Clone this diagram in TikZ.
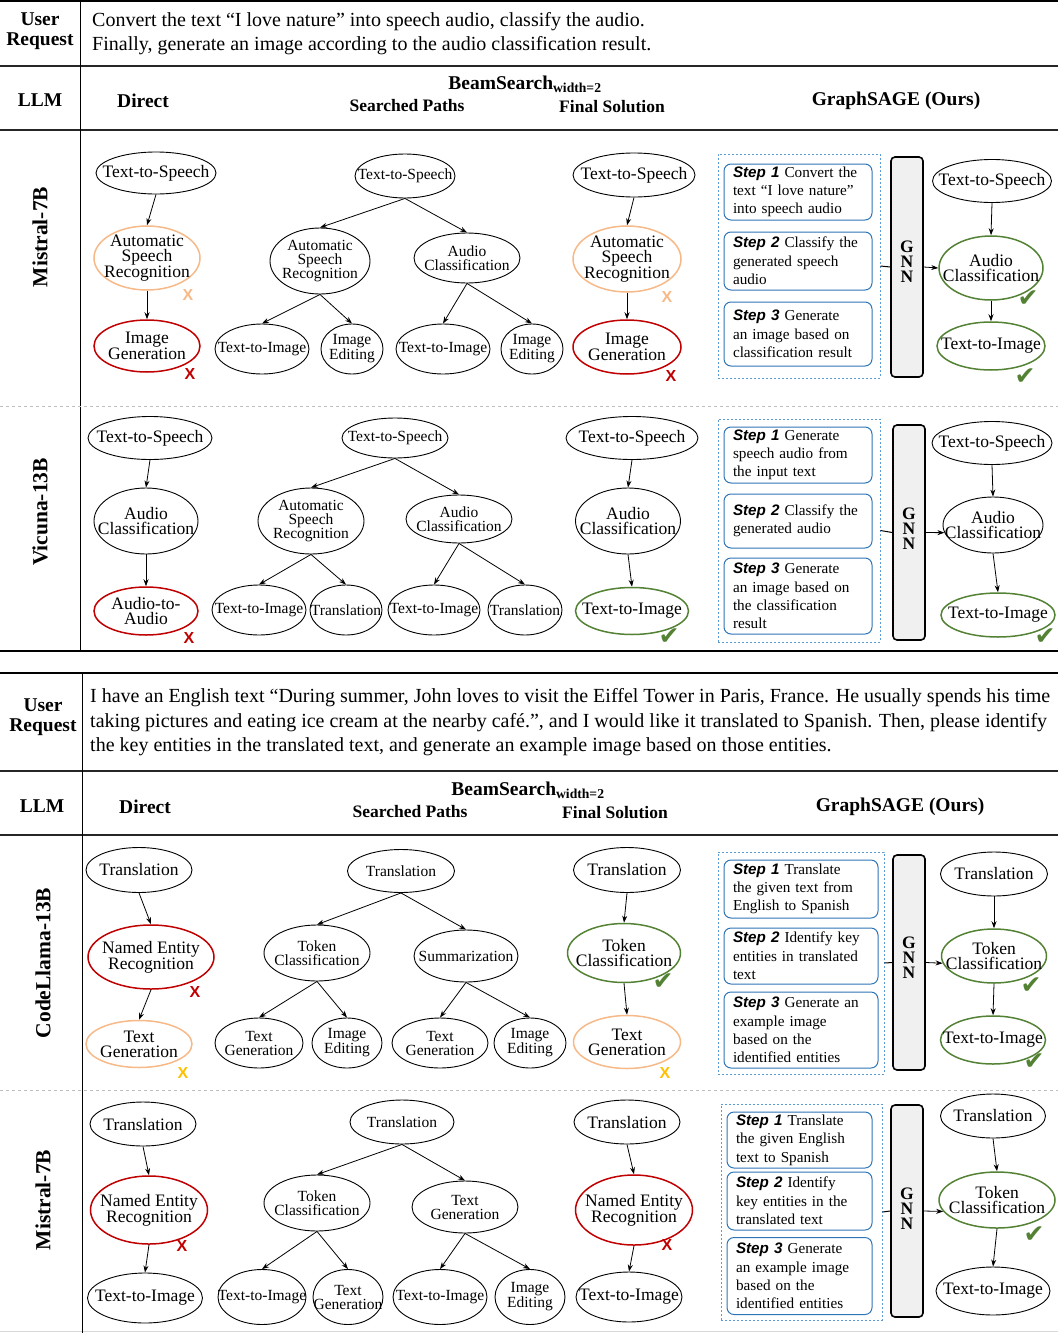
\documentclass[tikz,border=0pt]{standalone}
\usepackage{fontspec}
\setmainfont{Liberation Serif}
\newfontfamily\sansfam{Liberation Sans}
\newfontfamily\ckfam{DejaVu Sans}
\usetikzlibrary{shapes.geometric,arrows.meta}
\definecolor{xred}{RGB}{192,0,0}
\definecolor{xorange}{RGB}{246,185,135}
\definecolor{xyellow}{RGB}{255,192,0}
\definecolor{xgreen}{RGB}{84,130,53}
\definecolor{xblue}{RGB}{46,117,182}
\definecolor{xlblue}{RGB}{91,155,213}
\newcommand\fNode{\fontsize{17.5}{15}\selectfont}
\newcommand\fSrch{\fontsize{15.5}{14}\selectfont}
\newcommand\fStep{\fontsize{15.2}{18.3}\selectfont}
\newcommand\fHead{\fontsize{19.5}{20}\selectfont\bfseries}
\newcommand\fSub{\fontsize{17.5}{18}\selectfont\bfseries}
\newcommand\stp[1]{{\sansfam\bfseries\itshape Step #1}}
\newcommand\tn[6]{\node[tk,#1,minimum width=#4,minimum height=#5,label={[lblm]center:{#6}}] (#2) at (#3) {};}
\newcommand\sn[6]{\node[tk,#1,minimum width=#4,minimum height=#5,label={[lbls]center:{#6}}] (#2) at (#3) {};}
\begin{document}
\begin{tikzpicture}[x=1pt,y=-1pt,
  tk/.style={ellipse,draw,line width=0.9pt,inner sep=0pt},
  redE/.style={draw=xred,line width=1.5pt},
  ornE/.style={draw=xorange,line width=1.5pt},
  grnE/.style={draw=xgreen,line width=1.5pt},
  lblm/.style={align=center,inner sep=0pt,font=\fNode},
  lbls/.style={align=center,inner sep=0pt,font=\fSrch},
  arr/.style={-{Stealth[length=7pt,width=5pt]},line width=0.8pt},
  hd/.style={font=\fHead,align=center,inner sep=0pt},
  sh/.style={font=\fSub,inner sep=0pt},
  rowlab/.style={font=\fontsize{21.5}{22}\selectfont\bfseries,rotate=90,inner sep=0pt},
  req/.style={font=\fontsize{20}{24.3}\selectfont,align=left,anchor=west,inner sep=0pt},
  dbox/.style={draw=xlblue,dash pattern=on 2pt off 2pt,line width=1pt,inner sep=0pt},
  stepbox/.style={draw=xblue,rounded corners=7pt,line width=1pt,text width=130pt,align=left,inner xsep=9pt,inner ysep=2pt,font=\fStep},
  gnnbar/.style={draw,fill=black!6,rounded corners=4pt,line width=1.6pt,minimum width=32pt,inner sep=0pt},
  gnnlet/.style={font=\fontsize{17.5}{15}\selectfont\bfseries,align=center,inner sep=0pt},
  xr/.style={font=\sansfam\bfseries\fontsize{16}{16}\selectfont,text=xred,inner sep=0pt},
  xo/.style={font=\sansfam\bfseries\fontsize{16}{16}\selectfont,text=xorange,inner sep=0pt},
  xy/.style={font=\sansfam\bfseries\fontsize{16}{16}\selectfont,text=xyellow,inner sep=0pt},
  ck/.style={font=\ckfam\fontsize{25}{25}\selectfont,text=xgreen,inner sep=0pt},
  sep/.style={draw=black!25,dashed,line width=1pt}
]
\useasboundingbox (0,0) rectangle (1058,1333);
% ---------- top table frame ----------
\draw[line width=2pt] (0,1) -- (1058,1);
\draw[line width=1.5pt,black!85] (0,66) -- (1058,66);
\draw[line width=1.5pt,black!85] (0,130) -- (1058,130);
\draw[line width=2pt] (0,651) -- (1058,651);
\draw[line width=1pt] (80,0) -- (80,652);
\draw[sep] (0,406) -- (1058,406);
% headers
\node[hd] (ur1) at (40,31) {User\\Request};
\node[req] (rq1) at (92,33.5) {Convert the text “I love nature” into speech audio, classify the audio.\\Finally, generate an image according to the audio classification result.};
\node[hd] (llm1) at (40,100) {LLM};
\node[hd] (dir1) at (143,101) {Direct};
\node[hd] (bs1) at (525,84) {BeamSearch\textsubscript{width=2}};
\node[sh] (sp1) at (407,106) {Searched Paths};
\node[sh] (fs1) at (612,107) {Final Solution};
\node[hd] (gs1) at (896,101) {GraphSAGE (Ours)};
\node[rowlab] (rl1) at (40,237) {Mistral-7B};
\node[rowlab] (rl2) at (40,512) {Vicuna-13B};
% ---------- Section 1 ----------
\tn{}{a1}{156,173}{120}{42}{Text-to-Speech}
\tn{ornE}{a2}{147,258}{106}{64}{Automatic\\Speech\\Recognition}
\tn{redE}{a3}{147,346}{106}{52}{Image\\Generation}
\draw[arr] (a1.south) -- (a2.north);
\draw[arr] (a2.south) -- (a3.north);
\node[xo] (xa2) at (188,295) {X};
\node[xr] (xa3) at (190,374) {X};
\sn{}{b0}{405,176}{100}{44}{Text-to-Speech}
\sn{}{b1}{320,261}{100}{66}{Automatic\\Speech\\Recognition}
\sn{}{b2}{467,258}{106}{50}{Audio\\Classification}
\sn{}{b3}{262,349}{94}{50}{Text-to-Image}
\sn{}{b4}{352,349}{62}{50}{Image\\Editing}
\sn{}{b5}{443,349}{94}{50}{Text-to-Image}
\sn{}{b6}{532,349}{62}{50}{Image\\Editing}
\draw[arr] (b0.south) -- (b1.north);
\draw[arr] (b0.south) -- (b2.north);
\draw[arr] (b1.south) -- (b3.north);
\draw[arr] (b1.south) -- (b4.north);
\draw[arr] (b2.south) -- (b5.north);
\draw[arr] (b2.south) -- (b6.north);
\tn{}{c1}{634,175}{122}{44}{Text-to-Speech}
\tn{ornE}{c2}{627,259}{108}{66}{Automatic\\Speech\\Recognition}
\tn{redE}{c3}{627,347}{108}{54}{Image\\Generation}
\draw[arr] (c1.south) -- (c2.north);
\draw[arr] (c2.south) -- (c3.north);
\node[xo] (xc2) at (667,297) {X};
\node[xr] (xc3) at (671,376) {X};
\node[dbox,minimum width=162,minimum height=224] (d1) at (799,266) {};
\node[stepbox,minimum height=56] (s11) at (798,192) {\stp{1} Convert the\\text “I love nature”\\into speech audio};
\node[stepbox,minimum height=58] (s12) at (798,261) {\stp{2} Classify the\\generated speech\\audio};
\node[stepbox,minimum height=64] (s13) at (798,334) {\stp{3} Generate\\an image based on\\classification result};
\node[gnnbar,minimum height=220] (g1) at (907,267) {};
\node[gnnlet] (gl1) at (907,262) {G\\N\\N};
\tn{}{e1}{992,181}{119}{43}{Text-to-Speech}
\tn{grnE}{e2}{991,268}{104}{64}{Audio\\Classification}
\tn{grnE}{e3}{991,346}{108}{48}{Text-to-Image}
\draw[line width=1pt] (d1.east) -- (g1.west);
\draw[arr] (g1.east) -- (e2.west);
\draw[arr] (e1.south) -- (e2.north);
\draw[arr] (e2.south) -- (e3.north);
\node[ck] (ke2) at (1028,299) {✔};
\node[ck] (ke3) at (1025,377) {✔};
% ---------- Section 2 ----------
\tn{}{f1}{150,438}{124}{43}{Text-to-Speech}
\tn{}{f2}{146,521}{104}{66}{Audio\\Classification}
\tn{redE}{f3}{146,611}{104}{48}{Audio-to-\\Audio}
\draw[arr] (f1.south) -- (f2.north);
\draw[arr] (f2.south) -- (f3.north);
\node[xr] (xf3) at (189,638) {X};
\sn{}{h0}{395,438}{106}{40}{Text-to-Speech}
\sn{}{h1}{311,521}{106}{66}{Automatic\\Speech\\Recognition}
\sn{}{h2}{459,519}{106}{48}{Audio\\Classification}
\sn{}{h3}{259,610}{94}{50}{Text-to-Image}
\sn{}{h4}{346,610}{72}{50}{Translation}
\sn{}{h5}{434,610}{92}{50}{Text-to-Image}
\sn{}{h6}{525,610}{74}{50}{Translation}
\draw[arr] (h0.south) -- (h1.north);
\draw[arr] (h0.south) -- (h2.north);
\draw[arr] (h1.south) -- (h3.north);
\draw[arr] (h1.south) -- (h4.north);
\draw[arr] (h2.south) -- (h5.north);
\draw[arr] (h2.south) -- (h6.north);
\tn{}{i1}{632,438}{132}{43}{Text-to-Speech}
\tn{}{i2}{628,521}{105}{66}{Audio\\Classification}
\tn{grnE}{i3}{632,611}{113}{47}{Text-to-Image}
\draw[arr] (i1.south) -- (i2.north);
\draw[arr] (i2.south) -- (i3.north);
\node[ck] (ki3) at (669,637) {✔};
\node[dbox,minimum width=162,minimum height=223] (d2) at (799,530.5) {};
\node[stepbox,minimum height=56] (s21) at (798,455) {\stp{1} Generate\\speech audio from\\the input text};
\node[stepbox,minimum height=54] (s22) at (798,521) {\stp{2} Classify the\\generated audio};
\node[stepbox,minimum height=76] (s23) at (798,596) {\stp{3} Generate\\an image based on\\the classification\\result};
\node[gnnbar,minimum height=215] (g2) at (909,532.5) {};
\node[gnnlet] (gl2) at (909,529) {G\\N\\N};
\tn{}{j1}{992,443}{120}{43}{Text-to-Speech}
\tn{}{j2}{993,525}{100}{56}{Audio\\Classification}
\tn{grnE}{j3}{998,615}{114}{44}{Text-to-Image}
\draw[line width=1pt] (d2.east) -- (g2.west);
\draw[arr] (g2.east) -- (j2.189);
\draw[arr] (j1.south) -- (j2.north);
\draw[arr] (j2.south) -- (j3.north);
\node[ck] (kj3) at (1045,637) {✔};
% ---------- bottom table frame ----------
\draw[line width=2pt] (0,673) -- (1058,673);
\draw[line width=1.5pt,black!85] (0,771) -- (1058,771);
\draw[line width=1.5pt,black!85] (0,835) -- (1058,835);
\draw[line width=1pt,black!15] (0,1331) -- (1058,1331);
\draw[line width=1pt] (82,673) -- (82,1333);
\draw[sep] (0,1090) -- (1058,1090);
\node[hd] (ur2) at (43,717) {User\\Request};
\node[req,font=\fontsize{20}{24.6}\selectfont] (rq2) at (90,722.5) {I have an English text “During summer, John loves to visit the Eiffel Tower in Paris, France. He usually spends his time\\taking pictures and eating ice cream at the nearby café.”, and I would like it translated to Spanish. Then, please identify\\the key entities in the translated text, and generate an example image based on those entities.};
\node[hd] (llm2) at (42,806) {LLM};
\node[hd] (dir2) at (145,807) {Direct};
\node[hd] (bs2) at (528,790) {BeamSearch\textsubscript{width=2}};
\node[sh] (sp2) at (410,812) {Searched Paths};
\node[sh] (fs2) at (615,813) {Final Solution};
\node[hd] (gs2) at (900,807) {GraphSAGE (Ours)};
\node[rowlab] (rl3) at (43,963) {CodeLlama-13B};
\node[rowlab] (rl4) at (43,1200) {Mistral-7B};
% ---------- Section 3 ----------
\tn{}{k1}{139,870}{106}{45}{Translation}
\tn{redE}{k2}{151,957}{126}{64}{Named Entity\\Recognition}
\tn{ornE}{k3}{139,1044}{106}{47}{Text\\Generation}
\draw[arr] (k1.south) -- (k2.north);
\draw[arr] (k2.south) -- (k3.north);
\node[xr] (xk2) at (195,992) {X};
\node[xy] (xk3) at (183,1073) {X};
\sn{}{l0}{401,871}{107}{43}{Translation}
\sn{}{l1}{317,953}{106}{56}{Token\\Classification}
\sn{}{l2}{466,956}{104}{52}{Summarization}
\sn{}{l3}{259,1043}{88}{50}{Text\\Generation}
\sn{}{l4}{347,1043}{70}{50}{Image\\Editing}
\sn{}{l5}{440,1043}{96}{50}{Text\\Generation}
\sn{}{l6}{530,1043}{72}{50}{Image\\Editing}
\draw[arr] (l0.south) -- (l1.north);
\draw[arr] (l0.south) -- (l2.north);
\draw[arr] (l1.south) -- (l3.north);
\draw[arr] (l1.south) -- (l4.north);
\draw[arr] (l2.south) -- (l5.north);
\draw[arr] (l2.south) -- (l6.north);
\tn{}{m1}{627,870}{107}{45}{Translation}
\tn{grnE}{m2}{624,953}{113}{59}{Token\\Classification}
\tn{ornE}{m3}{627,1042}{107}{53}{Text\\Generation}
\draw[arr] (m1.south) -- (m2.north);
\draw[arr] (m2.south) -- (m3.north);
\node[ck] (km2) at (663,982) {✔};
\node[xy] (xm3) at (665,1073) {X};
\node[dbox,minimum width=166,minimum height=222] (d3) at (801,963) {};
\node[stepbox,text width=136pt,minimum height=58] (s31) at (801,889) {\stp{1} Translate\\the given text from\\English to Spanish};
\node[stepbox,text width=136pt,minimum height=56] (s32) at (801,956) {\stp{2} Identify key\\entities in translated\\text};
\node[stepbox,text width=136pt,minimum height=76] (s33) at (801,1030) {\stp{3} Generate an\\example image\\based on the\\identified entities};
\node[gnnbar,minimum height=215] (g3) at (909,962.5) {};
\node[gnnlet] (gl3) at (909,958) {G\\N\\N};
\tn{}{n1}{994,874}{107}{44}{Translation}
\tn{grnE}{n2}{994,956}{105}{54}{Token\\Classification}
\tn{grnE}{n3}{993,1040}{105}{48}{Text-to-Image}
\draw[line width=1pt] (d3.east) -- (g3.west);
\draw[arr] (g3.east) -- (n2.188);
\draw[arr] (n1.south) -- (n2.north);
\draw[arr] (n2.south) -- (n3.north);
\node[ck] (kn2) at (1031,986) {✔};
\node[ck] (kn3) at (1034,1062) {✔};
% ---------- Section 4 ----------
\tn{}{o1}{143,1124}{106}{44}{Translation}
\tn{redE}{o2}{149,1210}{117}{68}{Named Entity\\Recognition}
\tn{}{o3}{145,1298}{115}{50}{Text-to-Image}
\draw[arr] (o1.south) -- (o2.north);
\draw[arr] (o2.south) -- (o3.north);
\node[xr] (xo2) at (182,1246) {X};
\sn{}{p0}{402,1122}{104}{44}{Translation}
\sn{}{p1}{317,1203}{106}{56}{Token\\Classification}
\sn{}{p2}{465,1207}{106}{52}{Text\\Generation}
\sn{}{p3}{262,1297}{88}{55}{Text-to-Image}
\sn{}{p4}{348,1297}{70}{55}{Text\\Generation}
\sn{}{p5}{440,1297}{94}{55}{Text-to-Image}
\sn{}{p6}{530,1297}{70}{55}{Image\\Editing}
\draw[arr] (p0.south) -- (p1.north);
\draw[arr] (p0.south) -- (p2.north);
\draw[arr] (p1.south) -- (p3.north);
\draw[arr] (p1.south) -- (p4.north);
\draw[arr] (p2.south) -- (p5.north);
\draw[arr] (p2.south) -- (p6.north);
\tn{}{q1}{627,1122}{106}{44}{Translation}
\tn{redE}{q2}{634,1210}{117}{70}{Named Entity\\Recognition}
\tn{}{q3}{629,1297}{106}{50}{Text-to-Image}
\draw[arr] (q1.south) -- (q2.north);
\draw[arr] (q2.south) -- (q3.north);
\node[xr] (xq2) at (667,1245) {X};
\node[dbox,minimum width=161,minimum height=216] (d4) at (801.5,1212) {};
\node[stepbox,text width=127pt,minimum height=56] (s41) at (799.5,1140) {\stp{1} Translate\\the given English\\text to Spanish};
\node[stepbox,text width=127pt,minimum height=58] (s42) at (799.5,1201) {\stp{2} Identify\\key entities in the\\translated text};
\node[stepbox,text width=127pt,minimum height=77] (s43) at (799.5,1276) {\stp{3} Generate\\an example image\\based on the\\identified entities};
\node[gnnbar,minimum height=212] (g4) at (907,1211) {};
\node[gnnlet] (gl4) at (907,1209) {G\\N\\N};
\tn{}{r1}{993,1116}{105}{44}{Translation}
\tn{grnE}{r2}{997,1200}{116}{56}{Token\\Classification}
\tn{}{r3}{993,1291}{114}{48}{Text-to-Image}
\draw[line width=1pt] (d4.east) -- (g4.west);
\draw[arr] (g4.east) -- (r2.192);
\draw[arr] (r1.south) -- (r2.north);
\draw[arr] (r2.south) -- (r3.north);
\node[ck] (kr2) at (1034,1235) {✔};
\end{tikzpicture}
\end{document}
